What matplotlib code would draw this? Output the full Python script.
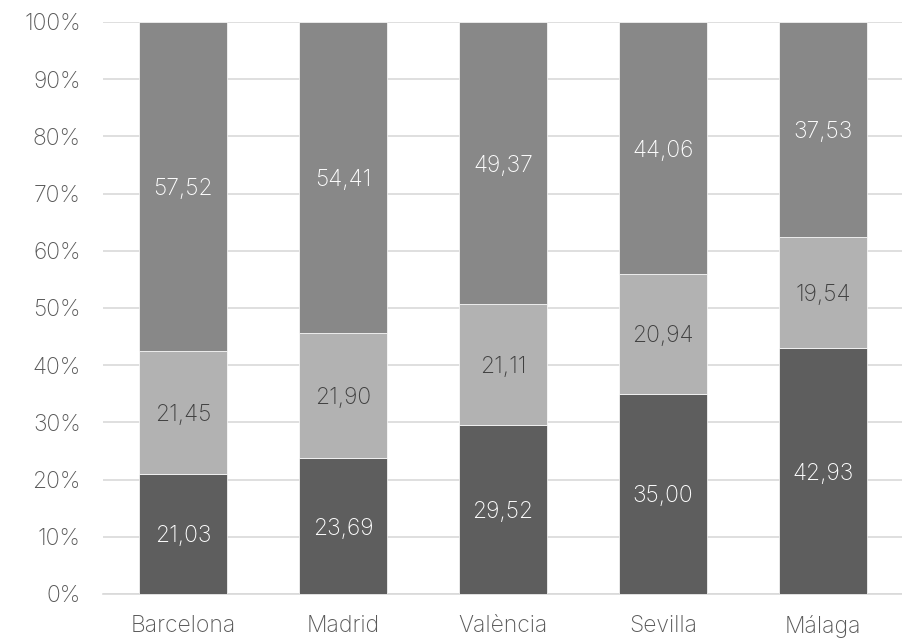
import matplotlib
matplotlib.use("Agg")
import matplotlib.pyplot as plt
import numpy as np

categories = ["Barcelona", "Madrid", "València", "Sevilla", "Málaga"]
bottom_vals = [21.03, 23.69, 29.52, 35.00, 42.93]
middle_vals = [21.45, 21.90, 21.11, 20.94, 19.54]
top_vals = [57.52, 54.41, 49.37, 44.06, 37.53]
yticks = [0, 10, 20, 30, 40, 50, 60, 70, 80, 90, 100]

colors = ["#5e5e5e", "#b2b2b2", "#888888"]
text_colors = ["white", "#404040", "white"]

plt.rcParams['font.family'] = ['Inter', 'DejaVu Sans']

fig = plt.figure(figsize=(9.03, 6.41), dpi=100)
ax = fig.add_axes([103/903, 1 - 594/641, 800/903, (594 - 22)/641])

x = np.arange(len(categories))
series = [bottom_vals, middle_vals, top_vals]
base = np.zeros(len(categories))
for vals, c, tc in zip(series, colors, text_colors):
    v = np.array(vals)
    ax.bar(x, v, width=0.55, bottom=base, color=c, edgecolor="white", linewidth=0.5, zorder=3)
    for xi, b, vi in zip(x, base, v):
        ax.text(xi, b + vi / 2, f"{vi:.2f}".replace(".", ","), ha="center", va="center_baseline",
                color=tc, fontsize=16.5, fontweight="light", zorder=4)
    base = base + v

ax.set_xlim(-0.5, len(categories) - 0.5)
ax.set_ylim(0, 100)
ax.set_yticks(yticks)
ax.set_yticklabels([f"{t}%" for t in yticks])
ax.set_xticks(x)
ax.set_xticklabels(categories)
ax.yaxis.grid(True, color="#d9d9d9", linewidth=1.2, zorder=0)
ax.set_axisbelow(True)
for s in ["top", "right", "left"]:
    ax.spines[s].set_visible(False)
ax.spines["bottom"].set_color("#d9d9d9")
ax.spines["bottom"].set_linewidth(1.2)
ax.tick_params(axis="both", length=0, labelsize=16.5, labelcolor="#595959")
ax.tick_params(axis="x", pad=15)
ax.tick_params(axis="y", pad=16)
for lbl in ax.get_xticklabels() + ax.get_yticklabels():
    lbl.set_fontweight("light")

fig.savefig("out.png", dpi=100)
